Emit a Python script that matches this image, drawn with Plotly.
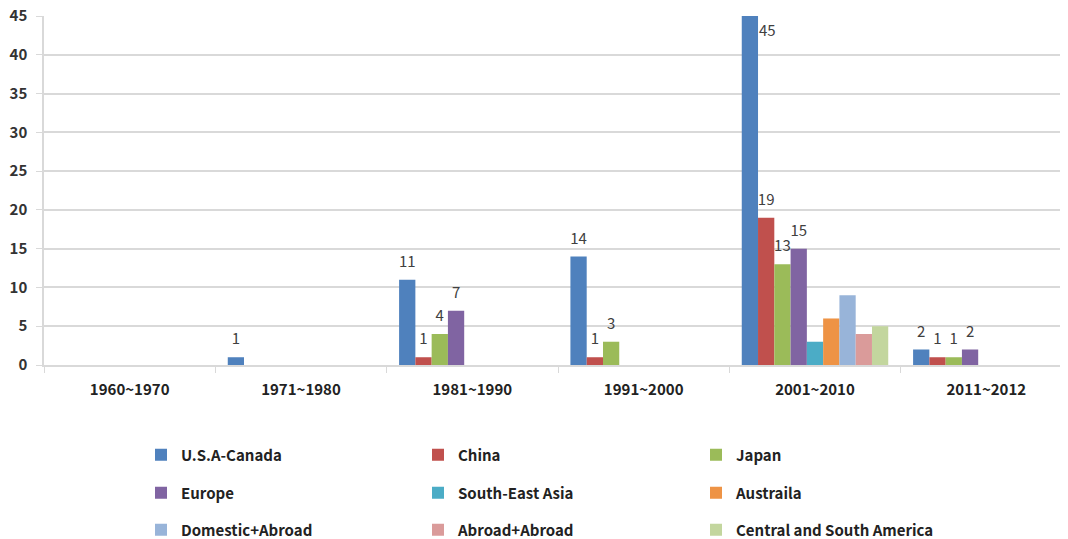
import plotly.graph_objects as go

categories = ["1960~1970", "1971~1980", "1981~1990", "1991~2000", "2001~2010", "2011~2012"]
series_names = ["U.S.A-Canada", "China", "Japan", "Europe", "South-East Asia", "Austraila",
                "Domestic+Abroad", "Abroad+Abroad", "Central and South America"]
usa_canada = [0, 1, 11, 14, 45, 2]
china = [0, 0, 1, 1, 19, 1]
japan = [0, 0, 4, 3, 13, 1]
europe = [0, 0, 7, 0, 15, 2]
south_east_asia = [0, 0, 0, 0, 3, 0]
australia = [0, 0, 0, 0, 6, 0]
domestic_abroad = [0, 0, 0, 0, 9, 0]
abroad_abroad = [0, 0, 0, 0, 4, 0]
central_south_america = [0, 0, 0, 0, 5, 0]
labelled = [True, True, True, True, False, False, False, False, False]

all_values = [usa_canada, china, japan, europe, south_east_asia, australia,
              domestic_abroad, abroad_abroad, central_south_america]
colors = ["#4F81BD", "#C0504D", "#9BBB59", "#8064A2", "#4BACC6", "#EE9345",
          "#98B4D9", "#DA9B9A", "#C3D69E"]

FONT = "Noto Sans CJK KR, Malgun Gothic, sans-serif"
YMAX = 45
# page body has an 8px margin; plot area runs slightly past the window's right edge
W, H = 1068, 531
GAP = 0.145

col_px = [133, 410, 688]
row_px = [447, 485, 522]

fig = go.Figure()
legend_layouts = {}
for i, (name, vals, col) in enumerate(zip(series_names, all_values, colors)):
    lname = "legend" if i == 0 else f"legend{i + 1}"
    fig.add_trace(go.Bar(
        x=categories, y=vals, name=name, marker_color=col,
        marker_line_width=0, legend=lname,
    ))
    r, c = divmod(i, 3)
    legend_layouts[lname] = dict(
        xref="container", yref="container",
        x=col_px[c] / W, y=1 - row_px[r] / H,
        xanchor="left", yanchor="middle",
        orientation="h", itemwidth=30, bgcolor="rgba(0,0,0,0)",
        font=dict(family=FONT, size=15, color="#222222", weight="bold"),
    )

# data labels as grouped text-scatter traces aligned with the bar groups
for i, (name, vals, lab) in enumerate(zip(series_names, all_values, labelled)):
    texts = [str(v) if (lab and v > 0) else "" for v in vals]
    pos = ["bottom right" if v >= YMAX else "top center" for v in vals]
    fig.add_trace(go.Scatter(
        x=categories, y=vals, mode="markers+text", text=texts, textposition=pos,
        marker=dict(size=13, opacity=0), showlegend=False, hoverinfo="skip",
        textfont=dict(family=FONT, size=15, color="#404040"),
        cliponaxis=False,
    ))

fig.update_layout(
    width=W, height=H,
    paper_bgcolor="white", plot_bgcolor="white",
    margin=dict(l=36, r=4, t=8, b=174, autoexpand=False),
    barmode="group", bargap=GAP, bargroupgap=0,
    scattermode="group", scattergap=GAP,
    showlegend=True,
    **legend_layouts,
)
fig.update_yaxes(range=[0, YMAX], dtick=5, showgrid=True, gridcolor="#D9D9D9", gridwidth=1.5,
                 showline=True, linecolor="#D9D9D9", linewidth=1.5,
                 ticks="outside", ticklen=6, tickcolor="#D9D9D9", automargin=False,
                 ticklabelstandoff=6, ticklabeloverflow="allow",
                 tickfont=dict(family=FONT, size=15, color="#333333", weight="bold"),
                 zeroline=False)
fig.update_xaxes(showline=True, linecolor="#D9D9D9", linewidth=1.5, automargin=False,
                 ticks="outside", tickson="boundaries", ticklen=6, tickcolor="#D9D9D9",
                 ticklabelstandoff=10, ticklabeloverflow="allow",
                 tickfont=dict(family=FONT, size=15, color="#222222", weight="bold"))

fig.write_html("out.html")
